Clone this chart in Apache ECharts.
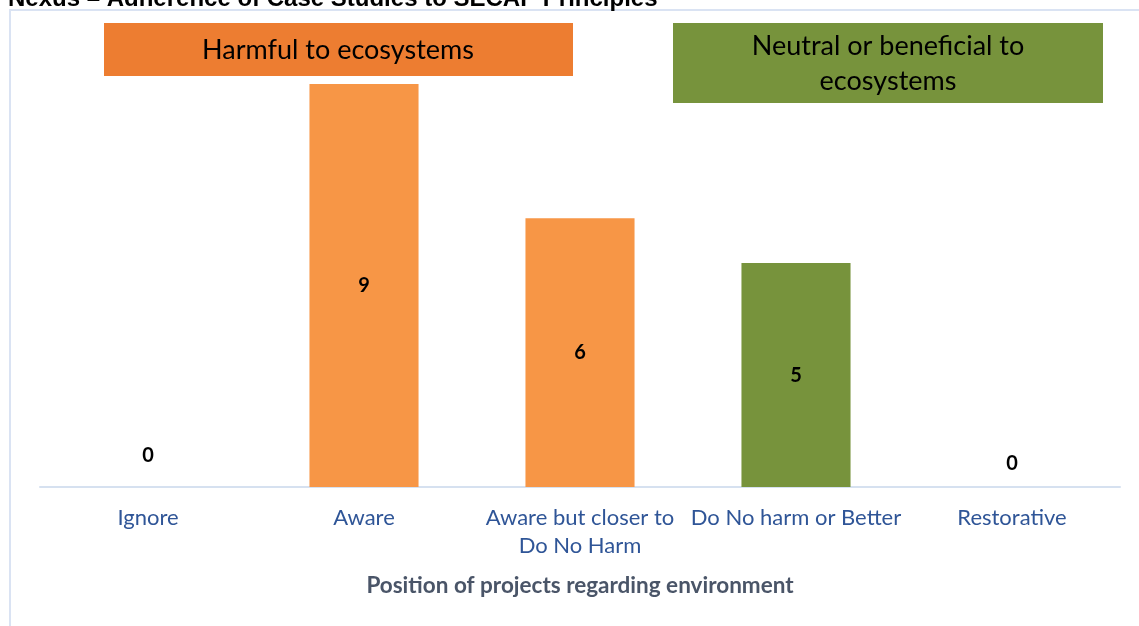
<!DOCTYPE html>
<html><head><meta charset="utf-8">
<script src="https://cdn.jsdelivr.net/npm/echarts@6/dist/echarts.min.js"></script>
<style>html,body{margin:0;padding:0;background:#fff}#c{width:1139px;height:626px}</style>
</head><body><div id="c"></div>
<script>
const titleText = 'Nexus – Adherence of Case Studies to SECAP Principles';
const categories = ['Ignore', 'Aware', 'Aware but closer to\nDo No Harm', 'Do No harm or Better', 'Restorative'];
const values = [0, 9, 6, 5, 0];
const barColors = ['#f79646', '#f79646', '#f79646', '#77933c', '#77933c'];
const zeroLabelDistance = [21, 0, 0, 0, 13];
const axisName = 'Position of projects regarding environment';
const harmfulLabel = 'Harmful to ecosystems';
const neutralLabel = 'Neutral or beneficial to\necosystems';

const chart = echarts.init(document.getElementById('c'));
const font = 'Lato, "Open Sans", sans-serif';
chart.setOption({
  animation: false,
  backgroundColor: '#fff',
  grid: {left: 40, width: 1080, top: 84, bottom: 139},
  xAxis: {
    type: 'category', data: categories,
    axisLine: {lineStyle: {color: '#d6e1f0', width: 2}},
    axisTick: {show: false},
    axisLabel: {color: '#2f5597', fontSize: 22, fontFamily: font, lineHeight: 28, margin: 17, interval: 0},
    name: axisName, nameLocation: 'middle', nameGap: 87,
    nameTextStyle: {color: '#4a5568', fontSize: 22.5, fontWeight: 'bold', fontFamily: font}
  },
  yAxis: {type: 'value', min: 0, max: 9, show: false, splitLine: {show: false}},
  series: [{
    type: 'bar', barCategoryGap: '49.5%',
    data: values.map((v, i) => ({
      value: v,
      itemStyle: {color: barColors[i]},
      label: v === 0 ? {position: 'top', distance: zeroLabelDistance[i]} : {position: 'inside'}
    })),
    label: {show: true, color: '#000', fontWeight: 'bold', fontSize: 20, fontFamily: font}
  }],
  graphic: [
    {type: 'rect', shape: {x: 10, y: 10, width: 1140, height: 630}, style: {fill: 'none', stroke: '#dae3f3', lineWidth: 2}, silent: true, z: -1},
    {type: 'text', left: 8, top: -13, style: {text: titleText, font: 'bold 24px "Liberation Sans", Arial, sans-serif', fill: '#000'}},
    {type: 'rect', shape: {x: 104, y: 23, width: 469, height: 53}, style: {fill: '#ed7d31'}},
    {type: 'text', x: 338, y: 50, style: {text: harmfulLabel, font: '27px ' + font, fill: '#000', align: 'center', verticalAlign: 'middle'}},
    {type: 'rect', shape: {x: 673, y: 23, width: 430, height: 80}, style: {fill: '#77933c'}},
    {type: 'text', x: 888, y: 63.5, style: {text: neutralLabel, font: '27px ' + font, lineHeight: 35, fill: '#000', align: 'center', verticalAlign: 'middle'}}
  ]
});
</script></body></html>
